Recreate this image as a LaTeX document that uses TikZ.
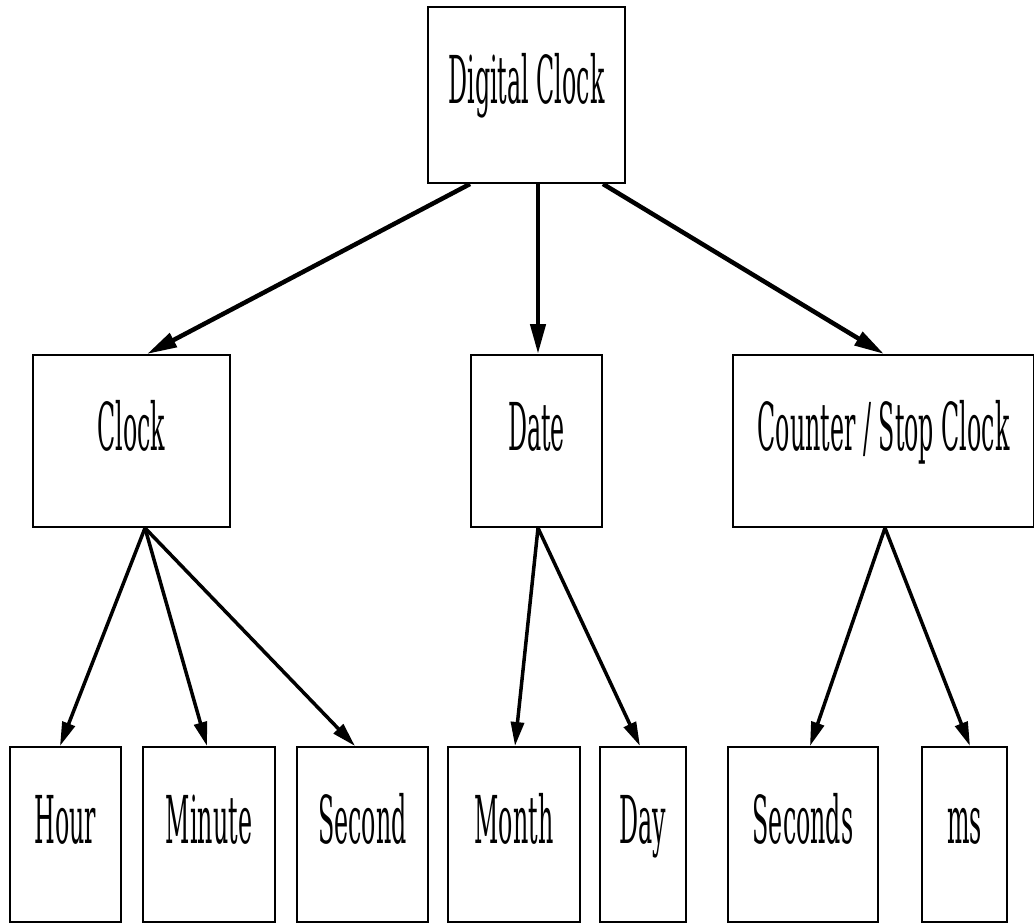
\documentclass[tikz,border=0pt]{standalone}
\usepackage{fontspec}
\setmainfont{DejaVu Serif}
\usetikzlibrary{arrows.meta}
\newcommand{\lbl}[1]{\smash{\raisebox{-9pt}{\scalebox{0.36}[1]{\fontsize{66pt}{66pt}\selectfont #1}}}}
\tikzset{
  box/.style={draw, line width=2pt, rectangle, inner sep=0pt, minimum height=#1},
  box/.default=172pt,
  arr/.style={line width=3.5pt, -{Triangle[length=24pt,width=13pt]}},
  toparr/.style={line width=4.5pt, -{Triangle[length=30pt,width=15pt]}}
}
\begin{document}
\begin{tikzpicture}[x=1pt,y=-1pt]
\useasboundingbox (0,0) rectangle (1034,923);
\node[box=176pt, minimum width=197pt] (dc) at (526.5,95) {\lbl{Digital Clock}};
\node[box, minimum width=197pt] (clock) at (131.5,441) {\lbl{Clock}};
\node[box, minimum width=131pt] (date) at (536.5,441) {\lbl{Date}};
\node[box, minimum width=301pt] (counter) at (883.5,441) {\lbl{Counter / Stop Clock}};
\node[box=175pt, minimum width=111pt] (hour) at (65.5,834.5) {\lbl{Hour}};
\node[box=175pt, minimum width=132pt] (minute) at (209,834.5) {\lbl{Minute}};
\node[box=175pt, minimum width=131pt] (second) at (362.5,834.5) {\lbl{Second}};
\node[box=175pt, minimum width=132pt] (month) at (514,834.5) {\lbl{Month}};
\node[box=175pt, minimum width=86pt] (day) at (643,834.5) {\lbl{Day}};
\node[box=175pt, minimum width=150pt] (seconds) at (803,834.5) {\lbl{Seconds}};
\node[box=175pt, minimum width=85pt] (ms) at (964.5,834.5) {\lbl{ms}};
\draw[toparr] ([xshift=-56.5pt]dc.south) -- ([xshift=15.5pt]clock.north);
\draw[toparr] ([xshift=11.5pt]dc.south) -- ([xshift=1.5pt]date.north);
\draw[toparr] ([xshift=76.5pt]dc.south) -- ([xshift=0.5pt]counter.north);
\draw[arr] ([xshift=13.5pt]clock.south) -- ([xshift=-5.5pt]hour.north);
\draw[arr] ([xshift=13.5pt]clock.south) -- ([xshift=-2pt]minute.north);
\draw[arr] ([xshift=13.5pt]clock.south) -- ([xshift=-7.5pt]second.north);
\draw[arr] ([xshift=1.5pt]date.south) -- ([xshift=1pt]month.north);
\draw[arr] ([xshift=1.5pt]date.south) -- ([xshift=-3pt]day.north);
\draw[arr] ([xshift=1.5pt]counter.south) -- ([xshift=7pt]seconds.north);
\draw[arr] ([xshift=1.5pt]counter.south) -- ([xshift=5.5pt]ms.north);
\end{tikzpicture}
\end{document}
